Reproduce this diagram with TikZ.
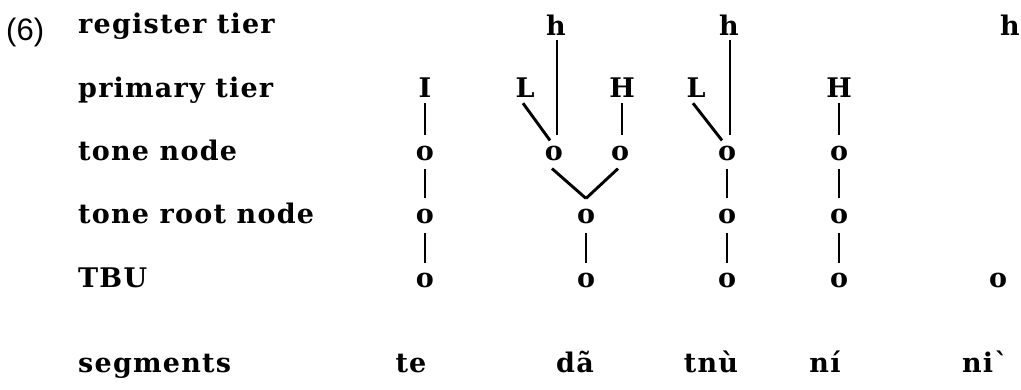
\documentclass[tikz,border=0pt]{standalone}
\usepackage{fontspec}
\setmainfont{DejaVu Serif}
\newfontfamily\labfont[LetterSpace=4.5]{DejaVu Serif}
\newfontfamily\numfont{Liberation Sans}
\begin{document}
\begin{tikzpicture}[x=1pt,y=-1pt,
  lab/.style={anchor=base west, inner sep=0pt, font=\labfont\bfseries\fontsize{27}{32}\selectfont},
  tone/.style={anchor=base, inner sep=0pt, font=\bfseries\fontsize{27}{32}\selectfont},
  seg/.style={anchor=base, inner sep=0pt, font=\labfont\bfseries\fontsize{27}{32}\selectfont},
  assoc/.style={line width=2.9pt}]
\useasboundingbox (0,0) rectangle (1021,389);
% example number
\node[anchor=base west, inner sep=0pt, font=\numfont\fontsize{31}{36}\selectfont] (num) at (6,40) {(6)};
% row labels
\node[lab] (lreg) at (78,33) {register tier};
\node[lab] (lpri) at (78,97) {primary tier};
\node[lab] (lton) at (78,160) {tone node};
\node[lab] (lroot) at (78,223) {tone root node};
\node[lab] (ltbu) at (78,287) {TBU};
\node[lab] (lseg) at (78,372) {segments};
% register tier
\node[tone] (h1) at (556,35) {h};
\node[tone] (h2) at (729,35) {h};
\node[tone] (h3) at (1010,35) {h};
% primary tier
\node[tone] (I1) at (425,97) {I};
\node[tone] (L1) at (525,97) {L};
\node[tone] (H1) at (622,97) {H};
\node[tone] (L2) at (696,97) {L};
\node[tone] (H2) at (839,97) {H};
% tone node
\node[tone] (t1) at (425,160) {o};
\node[tone] (t2) at (554,160) {o};
\node[tone] (t3) at (620,160) {o};
\node[tone] (t4) at (727,160) {o};
\node[tone] (t5) at (839,160) {o};
% tone root node
\node[tone] (r1) at (425,223) {o};
\node[tone] (r2) at (586,223) {o};
\node[tone] (r3) at (727,223) {o};
\node[tone] (r4) at (839,223) {o};
% TBU
\node[tone] (b1) at (425,287) {o};
\node[tone] (b2) at (586,287) {o};
\node[tone] (b3) at (727,287) {o};
\node[tone] (b4) at (839,287) {o};
\node[tone] (b5) at (998,287) {o};
% segments
\node[seg] (s1) at (411,372) {te};
\node[seg] (s2) at (575,372) {dã};
\node[seg] (s3) at (711,372) {tnù};
\node[seg] (s4) at (825,372) {ní};
\node[seg] (s5) at (985,372) {niˋ};
% association lines
\draw[assoc] ([shift={(0,6)}]I1.south) -- ([shift={(0,-10)}]t1.north);
\draw[assoc] ([shift={(0,8)}]t1.south) -- ([shift={(0,-10)}]r1.north);
\draw[assoc] ([shift={(0,9)}]r1.south) -- ([shift={(0,-9)}]b1.north);
\draw[assoc] ([shift={(1,5)}]h1.south) -- ([shift={(3,-10)}]t2.north);
\draw[assoc] ([shift={(-2,6)}]L1.south) -- ([shift={(-4,-5)}]t2.north);
\draw[assoc] ([shift={(0,6)}]H1.south) -- ([shift={(2,-10)}]t3.north);
\draw[assoc] ([shift={(-2,8)}]t2.south) -- ([shift={(0,-10)}]r2.north);
\draw[assoc] ([shift={(-2,8)}]t3.south) -- ([shift={(0,-10)}]r2.north);
\draw[assoc] ([shift={(0,9)}]r2.south) -- ([shift={(0,-9)}]b2.north);
\draw[assoc] ([shift={(1,5)}]h2.south) -- ([shift={(3,-10)}]t4.north);
\draw[assoc] ([shift={(-3,6)}]L2.south) -- ([shift={(-5,-5)}]t4.north);
\draw[assoc] ([shift={(0,8)}]t4.south) -- ([shift={(0,-10)}]r3.north);
\draw[assoc] ([shift={(0,9)}]r3.south) -- ([shift={(0,-9)}]b3.north);
\draw[assoc] ([shift={(0,6)}]H2.south) -- ([shift={(0,-10)}]t5.north);
\draw[assoc] ([shift={(0,8)}]t5.south) -- ([shift={(0,-10)}]r4.north);
\draw[assoc] ([shift={(0,9)}]r4.south) -- ([shift={(0,-9)}]b4.north);
\end{tikzpicture}
\end{document}
